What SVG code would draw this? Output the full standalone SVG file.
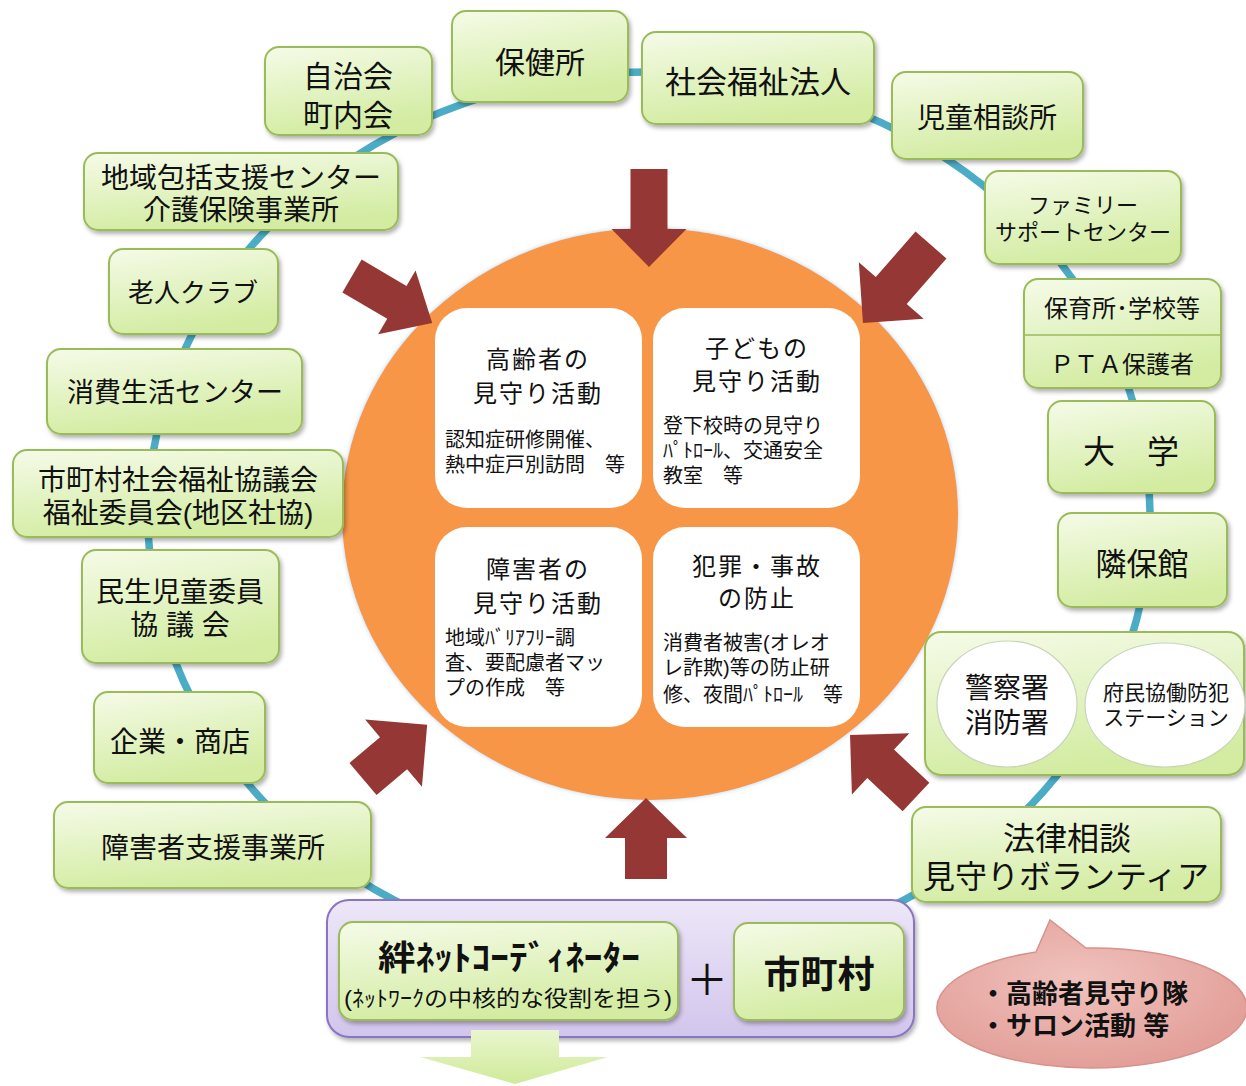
<svg xmlns="http://www.w3.org/2000/svg" width="1246" height="1086" viewBox="0 0 1246 1086">
<defs>
<linearGradient id="gn" x1="0" y1="0" x2="0.3" y2="1"><stop offset="0" stop-color="#F5FBE8"/><stop offset="1" stop-color="#D3ECA2"/></linearGradient>
<linearGradient id="gp" x1="0" y1="0" x2="0" y2="1"><stop offset="0" stop-color="#EDE7F8"/><stop offset="1" stop-color="#D2C5EC"/></linearGradient>
<linearGradient id="ga" x1="0" y1="0" x2="0" y2="1"><stop offset="0" stop-color="#E9F6CF"/><stop offset="1" stop-color="#CFEA98"/></linearGradient>
<radialGradient id="gb" cx="0.45" cy="0.4" r="0.6"><stop offset="0" stop-color="#F0C2BD"/><stop offset="1" stop-color="#E39F99"/></radialGradient>
<filter id="sh" x="-10%" y="-15%" width="125%" height="140%"><feDropShadow dx="2" dy="3" stdDeviation="2" flood-color="#000" flood-opacity="0.3"/></filter>
<filter id="sw" x="-10%" y="-10%" width="120%" height="120%"><feDropShadow dx="0" dy="0" stdDeviation="2" flood-color="#7FB8D8" flood-opacity="0.6"/></filter>
</defs>
<style>
.n{fill:url(#gn);stroke:#9BBB59;stroke-width:2;filter:url(#sh)}
.q{fill:#FFFFFF}
.ar{fill:#953735}
.ov{fill:#FFFFFF;stroke:#C9D3BC;stroke-width:1.2}
text{font-family:"Liberation Sans","Noto Sans CJK JP",sans-serif;fill:#111;text-anchor:middle}
.s{text-anchor:start;font-size:20px}
.h{font-size:24px;letter-spacing:2px}
</style>

<g id="connectors">
<ellipse cx="649" cy="517" rx="501" ry="445" fill="none" stroke="#4BACC6" stroke-width="7.5"/>
</g>

<g id="center">
<ellipse cx="650" cy="514" rx="308" ry="286" fill="#F79646" filter="url(#sw)"/>
<g id="q-elderly">
<rect class="q" x="435" y="308" width="207" height="200" rx="32"/>
<text class="h"><tspan x="538" y="368">高齢者の</tspan><tspan x="538" y="402">見守り活動</tspan></text>
<text class="s"><tspan x="445" y="447">認知症研修開催、</tspan><tspan x="445" y="472">熱中症戸別訪問　等</tspan></text>
</g>
<g id="q-children">
<rect class="q" x="653" y="308" width="207" height="200" rx="32"/>
<text class="h"><tspan x="757" y="357">子どもの</tspan><tspan x="757" y="390">見守り活動</tspan></text>
<text class="s"><tspan x="663" y="433">登下校時の見守り</tspan><tspan x="663" y="458">ﾊﾟﾄﾛｰﾙ、交通安全</tspan><tspan x="663" y="483">教室　等</tspan></text>
</g>
<g id="q-disabled">
<rect class="q" x="435" y="527" width="207" height="200" rx="32"/>
<text class="h"><tspan x="538" y="578">障害者の</tspan><tspan x="538" y="612">見守り活動</tspan></text>
<text class="s"><tspan x="445" y="645">地域ﾊﾞﾘｱﾌﾘｰ調</tspan><tspan x="445" y="670">査、要配慮者マッ</tspan><tspan x="445" y="695">プの作成　等</tspan></text>
</g>
<g id="q-crime">
<rect class="q" x="653" y="527" width="207" height="200" rx="32"/>
<text class="h"><tspan x="757" y="575">犯罪・事故</tspan><tspan x="757" y="607">の防止</tspan></text>
<text class="s"><tspan x="663" y="650">消費者被害(オレオ</tspan><tspan x="663" y="675">レ詐欺)等の防止研</tspan><tspan x="663" y="702">修、夜間ﾊﾟﾄﾛｰﾙ　等</tspan></text>
</g>
</g>

<g id="arrows">
<path class="ar" transform="translate(649,169) rotate(90)" d="M0,-18.5 L60,-18.5 L60,-37.5 L98,0 L60,37.5 L60,18.5 L0,18.5Z"/>
<path class="ar" transform="translate(352,276) rotate(30.4)" d="M0,-19 L52,-19 L52,-37 L93,0 L52,37 L52,19 L0,19Z"/>
<path class="ar" transform="translate(931,245) rotate(131.1)" d="M0,-20.5 L60.5,-20.5 L60.5,-43 L103.5,0 L60.5,43 L60.5,20.5 L0,20.5Z"/>
<path class="ar" transform="translate(363,779) rotate(-40.2)" d="M0,-21 L40,-21 L40,-44 L84,0 L40,44 L40,21 L0,21Z"/>
<path class="ar" transform="translate(646,879) rotate(-90)" d="M0,-21 L41,-21 L41,-41 L81,0 L41,41 L41,21 L0,21Z"/>
<path class="ar" transform="translate(916,797) rotate(223.2)" d="M0,-19.5 L48.5,-19.5 L48.5,-42 L90.5,0 L48.5,42 L48.5,19.5 L0,19.5Z"/>
</g>

<g id="n-jichikai"><rect class="n" x="265" y="47" width="167" height="88" rx="14"/>
<text font-size="30"><tspan x="348" y="87">自治会</tspan><tspan x="348" y="126">町内会</tspan></text></g>
<g id="n-hokenjo"><rect class="n" x="452" y="11" width="176" height="91" rx="14"/>
<text x="540" y="73" font-size="30">保健所</text></g>
<g id="n-shakaifukushi"><rect class="n" x="642" y="32" width="232" height="92" rx="14"/>
<text x="758" y="93" font-size="31">社会福祉法人</text></g>
<g id="n-jidosodan"><rect class="n" x="892" y="72" width="191" height="87" rx="14"/>
<text x="987" y="128" font-size="28">児童相談所</text></g>
<g id="n-family"><rect class="n" x="985" y="171" width="196" height="93" rx="14"/>
<text font-size="22"><tspan x="1083" y="213">ファミリー</tspan><tspan x="1083" y="240">サポートセンター</tspan></text></g>
<g id="n-school"><rect class="n" x="1024" y="279" width="197" height="109" rx="14"/>
<line x1="1025" y1="335" x2="1220" y2="335" stroke="#9BBB59" stroke-width="1.5"/>
<text x="1122" y="317" font-size="24">保育所･学校等</text><text x="1122" y="373" font-size="24">ＰＴＡ保護者</text></g>
<g id="n-daigaku"><rect class="n" x="1048" y="401" width="167" height="92" rx="14"/>
<text x="1131" y="463" font-size="32">大　学</text></g>
<g id="n-rinpokan"><rect class="n" x="1058" y="513" width="169" height="94" rx="14"/>
<text x="1142" y="575" font-size="31">隣保館</text></g>
<g id="n-police"><rect class="n" x="925" y="632" width="319" height="143" rx="16"/>
<ellipse class="ov" cx="1007" cy="704" rx="70" ry="63"/>
<ellipse class="ov" cx="1165" cy="705" rx="80" ry="62"/>
<text font-size="28"><tspan x="1007" y="698">警察署</tspan><tspan x="1007" y="733">消防署</tspan></text>
<text font-size="21"><tspan x="1166" y="700">府民協働防犯</tspan><tspan x="1166" y="725">ステーション</tspan></text></g>
<g id="n-horitsu"><rect class="n" x="912" y="807" width="309" height="95" rx="14"/>
<text font-size="32"><tspan x="1067" y="850">法律相談</tspan><tspan x="1066" y="888">見守りボランティア</tspan></text></g>

<g id="n-shogaisha"><rect class="n" x="54" y="802" width="317" height="86" rx="14"/>
<text x="213" y="858" font-size="28">障害者支援事業所</text></g>
<g id="n-kigyo"><rect class="n" x="94" y="692" width="171" height="91" rx="14"/>
<text x="180" y="752" font-size="28">企業・商店</text></g>
<g id="n-minsei"><rect class="n" x="82" y="550" width="197" height="113" rx="14"/>
<text font-size="28"><tspan x="180" y="602">民生児童委員</tspan><tspan x="180" y="635">協 議 会</tspan></text></g>
<g id="n-shakyo"><rect class="n" x="13" y="450" width="330" height="87" rx="14"/>
<text font-size="28"><tspan x="178" y="490">市町村社会福祉協議会</tspan><tspan x="178" y="523">福祉委員会(地区社協)</tspan></text></g>
<g id="n-shohi"><rect class="n" x="47" y="349" width="255" height="85" rx="14"/>
<text x="175" y="402" font-size="27">消費生活センター</text></g>
<g id="n-rojin"><rect class="n" x="109" y="249" width="169" height="85" rx="14"/>
<text x="193" y="302" font-size="26">老人クラブ</text></g>
<g id="n-chiiki"><rect class="n" x="84" y="153" width="314" height="77" rx="14"/>
<text font-size="28"><tspan x="241" y="188">地域包括支援センター</tspan><tspan x="241" y="220">介護保険事業所</tspan></text></g>

<g id="n-coordinator-group">
<rect x="327" y="900" width="587" height="137" rx="22" fill="url(#gp)" stroke="#8A74C0" stroke-width="2" filter="url(#sh)"/>
<g id="n-coordinator"><rect class="n" x="339" y="922" width="339" height="98" rx="14"/>
<text><tspan x="509" y="970" font-size="34" font-weight="bold" textLength="262" lengthAdjust="spacingAndGlyphs">絆ﾈｯﾄｺｰﾃﾞｨﾈｰﾀｰ</tspan><tspan x="508" y="1006" font-size="22" textLength="328" lengthAdjust="spacingAndGlyphs">(ﾈｯﾄﾜｰｸの中核的な役割を担う)</tspan></text></g>
<text x="707" y="995" font-size="42">＋</text>
<g id="n-shichoson"><rect class="n" x="734" y="923" width="170" height="97" rx="14"/>
<text x="819" y="988" font-size="37" font-weight="bold">市町村</text></g>
</g>

<g id="down-arrow">
<path d="M471,1030 L559,1030 L559,1057 L608,1057 L515,1084 L420,1057 L471,1057Z" fill="url(#ga)"/>
</g>

<g id="n-bubble">
<path d="M1036,952 L1050,920 L1086,948 A155,60 0 1,1 1036,952Z" fill="url(#gb)" stroke="#D6928C" stroke-width="1.5"/>
<text font-size="26" font-weight="bold" style="text-anchor:start"><tspan x="980" y="1003">・高齢者見守り隊</tspan><tspan x="980" y="1035">・サロン活動 等</tspan></text>
</g>
</svg>
